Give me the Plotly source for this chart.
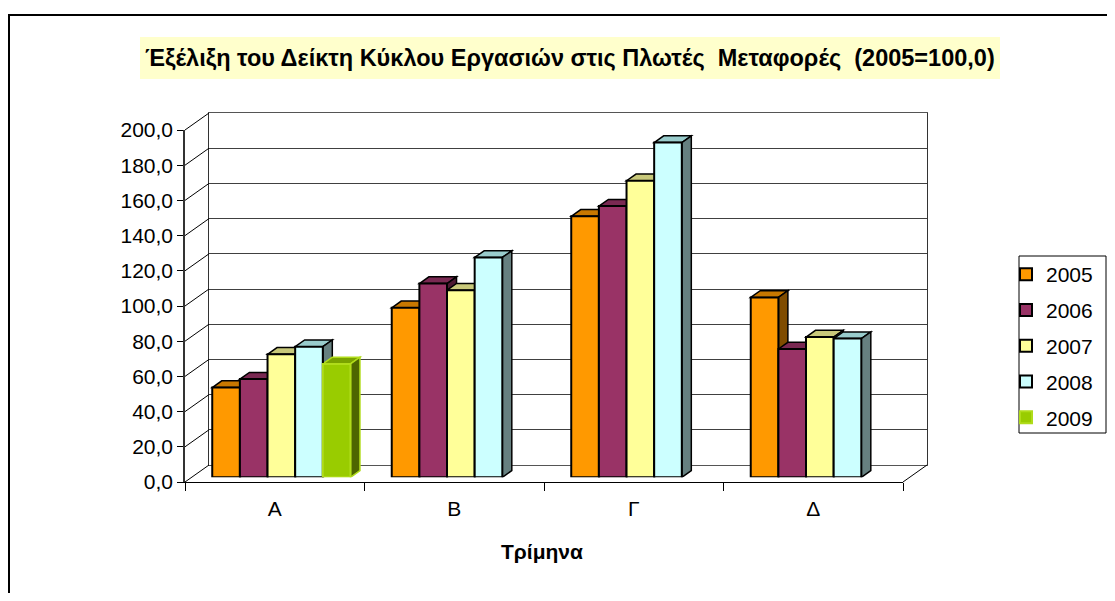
import plotly.graph_objects as go

# ---------------- data ----------------
categories = ["Α", "Β", "Γ", "Δ"]
years = ["2005", "2006", "2007", "2008", "2009"]
v2005 = [51.0, 96.3, 148.3, 102.2]
v2006 = [55.8, 110.1, 154.1, 72.9]
v2007 = [69.9, 106.3, 168.5, 79.7]
v2008 = [74.2, 124.9, 190.2, 78.8]
v2009 = [64.4, None, None, None]
y_ticks = [0, 20, 40, 60, 80, 100, 120, 140, 160, 180, 200]

title_text = "Έξέλιξη του Δείκτη Κύκλου Εργασιών στις Πλωτές  Μεταφορές  (2005=100,0)"
x_title = "Τρίμηνα"

series = [v2005, v2006, v2007, v2008, v2009]
face_colors = ["#FF9900", "#993366", "#FFFF99", "#CCFFFF", "#99CC00"]
top_colors = ["#C87800", "#7A2952", "#C8C87A", "#99CCCC", "#7AA300"]
side_colors = ["#7F4C00", "#4D1A33", "#80804D", "#668080", "#4D6600"]
edge_colors = ["#000000", "#000000", "#000000", "#000000", "#B0DC1A"]

# ---------------- geometry (pixels of the 1115x601 window) ----------------
OFF = 8  # page body margin
W, H = 1115 - 2 * OFF, 601 - 2 * OFF
def px(x):
    return (x - OFF) / W
def py(y):
    return 1 - (y - OFF) / H

FONT = "Arial, Liberation Sans, sans-serif"
BARGAP = 0.23
n_series = len(series)
# front plane
FX0, FX1, FY0, FY1 = 185, 903, 482, 130
# back wall
BX0, BX1, BY0, BY1 = 209, 927, 465, 113
# bar plane shift
SHX = 6.6
SHY = 4.7
# bar depth in px
DEPTH_X, DEPTH_Y = 9.5, 6.7
cat_px = (FX1 - FX0) / len(categories)
unit_px = (FY0 - FY1) / 200.0
dxu = DEPTH_X / cat_px
dyu = DEPTH_Y / unit_px

fig = go.Figure()

fig.add_trace(go.Scatter(x=categories, y=[None] * 4, xaxis="x", yaxis="y",
                         showlegend=False, hoverinfo="skip"))

for name, vals, fc, ec in zip(years, series, face_colors, edge_colors):
    fig.add_trace(go.Bar(
        x=categories, y=vals, name=name, xaxis="x2", yaxis="y2",
        legendgroup=name,
        marker=dict(color=fc, line=dict(color=ec, width=2)),
    ))

fig.add_trace(go.Scatter(x=categories, y=[None] * 4, xaxis="x3", yaxis="y3",
                         showlegend=False, hoverinfo="skip"))

shapes = []
w = (1 - BARGAP) / n_series
for j, vals in enumerate(series):
    for i, v in enumerate(vals):
        if v is None:
            continue
        x0 = i - (1 - BARGAP) / 2 + j * w
        x1 = x0 + w
        top = f"M {x0},{v} L {x0 + dxu},{v + dyu} L {x1 + dxu},{v + dyu} L {x1},{v} Z"
        side = f"M {x1},0 L {x1 + dxu},{dyu} L {x1 + dxu},{v + dyu} L {x1},{v} Z"
        lc = edge_colors[j]
        shapes.append(dict(type="path", path=top, xref="x2", yref="y2", layer="below",
                           fillcolor=top_colors[j], line=dict(color=lc, width=1.5)))
        shapes.append(dict(type="path", path=side, xref="x2", yref="y2", layer="below",
                           fillcolor=side_colors[j], line=dict(color=lc, width=1.5)))

for t in y_ticks:
    yf = FY0 - t * unit_px
    yb = BY0 - t * (BY0 - BY1) / 200.0
    shapes.append(dict(type="line", xref="paper", yref="paper",
                       x0=px(FX0), y0=py(yf), x1=px(BX0), y1=py(yb),
                       line=dict(color="#000000", width=1)))
shapes.append(dict(type="line", xref="paper", yref="paper",
                   x0=px(FX1), y0=py(FY0), x1=px(BX1), y1=py(BY0),
                   line=dict(color="#000000", width=1)))
# title box
shapes.append(dict(type="rect", xref="paper", yref="paper", layer="below",
                   x0=px(140), y0=py(37), x1=px(1000), y1=py(79),
                   fillcolor="#FFFFCC", line=dict(width=0)))
# legend frame
shapes.append(dict(type="rect", xref="paper", yref="paper", layer="below",
                   x0=px(1019), y0=py(256), x1=px(1106), y1=py(433),
                   fillcolor="#FFFFFF", line=dict(color="#000000", width=1)))
# outer border
shapes.append(dict(type="rect", xref="paper", yref="paper",
                   x0=px(9), y0=py(15), x1=1.05, y1=-0.05,
                   line=dict(color="#000000", width=2)))

annotations = [
    dict(text="<b>" + title_text + "</b>", xref="paper", yref="paper",
         x=px(570), y=py(58), xanchor="center", yanchor="middle", showarrow=False,
         font=dict(family=FONT, size=23.5, color="#000000")),
    dict(text="<b>" + x_title + "</b>", xref="paper", yref="paper",
         x=px(542), y=py(551), xanchor="center", yanchor="middle", showarrow=False,
         font=dict(family=FONT, size=21, color="#000000")),
]

hidden = dict(showgrid=False, zeroline=False, showticklabels=False, ticks="", automargin=False)

fig.update_layout(
    width=W, height=H,
    margin=dict(l=0, r=0, t=0, b=0, autoexpand=False),
    paper_bgcolor="#FFFFFF",
    plot_bgcolor="rgba(0,0,0,0)",
    separators=",.",
    barmode="group", bargap=BARGAP, bargroupgap=0,
    font=dict(family=FONT, color="#000000"),
    xaxis=dict(domain=[px(BX0), px(BX1)], anchor="y", type="category",
               categoryarray=categories, range=[-0.5, 3.5],
               showline=True, mirror=True, linecolor="#555555", linewidth=1, **hidden),
    yaxis=dict(domain=[py(BY0), py(BY1)], anchor="x", range=[0, 200], tickvals=y_ticks,
               showgrid=True, gridcolor="#404040", gridwidth=1, zeroline=False,
               showticklabels=False, ticks="", automargin=False,
               showline=True, mirror=True, linecolor="#333333", linewidth=1),
    xaxis2=dict(domain=[px(FX0 + SHX), px(FX1 + SHX)], anchor="y2", type="category",
                categoryarray=categories, range=[-0.5, 3.5], showline=False, **hidden),
    yaxis2=dict(domain=[py(FY0 - SHY), py(FY1 - SHY)], anchor="x2", range=[0, 200],
                showline=False, **hidden),
    xaxis3=dict(domain=[px(FX0), px(FX1)], anchor="y3", type="category",
                categoryarray=categories, range=[-0.5, 3.5], automargin=False,
                showgrid=False, zeroline=False, showline=True, linecolor="#000000", linewidth=1,
                ticks="outside", tickson="boundaries", ticklen=8, tickcolor="#000000",
                ticklabelstandoff=8,
                tickfont=dict(family=FONT, size=21, color="#000000")),
    yaxis3=dict(domain=[py(FY0), py(FY1)], anchor="x3", range=[0, 200],
                tickvals=y_ticks, tickformat=".1f", automargin=False,
                showgrid=False, zeroline=False, showline=True, linecolor="#333333", linewidth=1.5,
                ticks="outside", ticklen=6, tickcolor="#000000",
                tickfont=dict(family=FONT, size=21, color="#000000")),
    legend=dict(x=px(1006), y=py(254), xanchor="left", yanchor="top",
                borderwidth=0, bgcolor="rgba(0,0,0,0)",
                traceorder="grouped", tracegroupgap=5.5,
                font=dict(family=FONT, size=21, color="#000000")),
    shapes=shapes,
    annotations=annotations,
)

fig.write_html("out.html")
